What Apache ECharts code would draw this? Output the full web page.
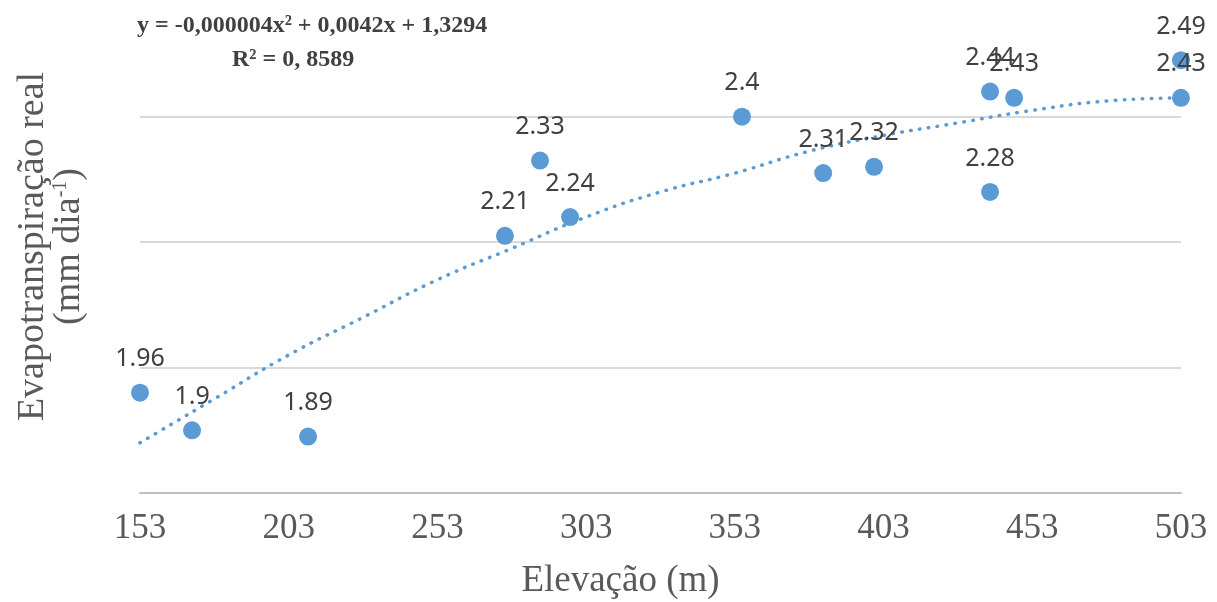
<!DOCTYPE html>
<html>
<head>
<meta charset="utf-8">
<script src="https://cdn.jsdelivr.net/npm/echarts@6/dist/echarts.min.js"></script>
<style>
  html, body { margin: 0; padding: 0; background: #fff; }
  #chart1 { width: 1217px; height: 602px; }
</style>
</head>
<body>
<div id="chart1"></div>
<script>
// dados
var elevacao = [153, 170.5, 209.5, 275.7, 287.5, 297.6, 355.4, 382.7, 399.8, 438.8, 438.8, 446.9, 503, 503];
var etReal = [1.96, 1.9, 1.89, 2.21, 2.33, 2.24, 2.4, 2.31, 2.32, 2.28, 2.44, 2.43, 2.49, 2.43];
// linha de tendência (pontuada)
var trendX = [153, 178, 203, 228, 253, 278, 303, 328, 353, 378, 403, 428, 453, 478, 503];
var trendY = [1.88, 1.95, 2.02, 2.08, 2.14, 2.19, 2.24, 2.28, 2.31, 2.345, 2.37, 2.39, 2.41, 2.425, 2.43];
var xTicks = [153, 203, 253, 303, 353, 403, 453, 503];

function renderChart (id) {
  var chart = echarts.init(document.getElementById(id))
  var pontos = elevacao.map(function (x, i) { return [x, etReal[i]] })
  var tendencia = trendX.map(function (x, i) { return [x, trendY[i]] })
  var option = {
    animation: false,
    grid: {
      left: 140,
      right: 36,
      top: 0,
      bottom: 109,
      outerBoundsMode: 'none'
    },
    xAxis: {
      type: 'value',
      min: xTicks[0],
      max: xTicks[xTicks.length - 1],
      interval: 50,
      name: 'Elevação (m)',
      nameLocation: 'middle',
      nameGap: 70,
      nameTextStyle: {
        fontFamily: 'Liberation Serif',
        fontSize: 37,
        color: '#595959',
        padding: [0, 80, 0, 0]
      },
      axisLabel: {
        fontFamily: 'Liberation Serif',
        fontSize: 35,
        color: '#595959',
        margin: 18
      },
      axisLine: {
        lineStyle: { color: '#bfbfbf', width: 2 }
      },
      axisTick: { show: false },
      splitLine: { show: false }
    },
    yAxis: {
      type: 'value',
      min: 1.8,
      max: 2.586,
      interval: 0.2,
      name: 'Evapotranspiração real\n(mm dia{sup|-1})',
      nameLocation: 'middle',
      nameRotate: 90,
      nameGap: 53,
      nameTextStyle: {
        fontFamily: 'Liberation Serif',
        fontSize: 38,
        lineHeight: 36,
        color: '#595959',
        rich: {
          sup: {
            fontFamily: 'Liberation Serif',
            fontSize: 20,
            color: '#595959',
            verticalAlign: 'top',
            lineHeight: 36
          }
        }
      },
      axisLabel: { show: false },
      axisLine: { show: false },
      axisTick: { show: false },
      splitLine: {
        showMaxLine: false,
        lineStyle: { color: '#d9d9d9', width: 2 }
      }
    },
    graphic: [
      {
        type: 'text',
        left: 137,
        top: 14,
        style: {
          text: 'y = -0,000004x² + 0,0042x + 1,3294',
          fontFamily: 'Liberation Serif',
          fontWeight: 'bold',
          fontSize: 24,
          fill: '#404040'
        }
      },
      {
        type: 'text',
        left: 232,
        top: 48,
        style: {
          text: 'R² = 0, 8589',
          fontFamily: 'Liberation Serif',
          fontWeight: 'bold',
          fontSize: 24,
          fill: '#404040'
        }
      }
    ],
    series: [
      {
        type: 'line',
        data: tendencia,
        smooth: true,
        showSymbol: false,
        silent: true,
        z: 1,
        lineStyle: {
          color: '#5b9bd5',
          width: 3.5,
          type: [0.5, 8.5],
          cap: 'round'
        }
      },
      {
        type: 'scatter',
        data: pontos,
        symbolSize: 18,
        z: 3,
        itemStyle: { color: '#5b9bd5', opacity: 1 },
        label: {
          show: true,
          position: 'top',
          distance: 12,
          fontFamily: 'Noto Sans',
          fontSize: 25,
          color: '#404040',
          formatter: function (p) { return p.value[1] }
        }
      }
    ]
  };
  chart.setOption(option, true);
}
renderChart('chart1');
</script>
</body>
</html>
